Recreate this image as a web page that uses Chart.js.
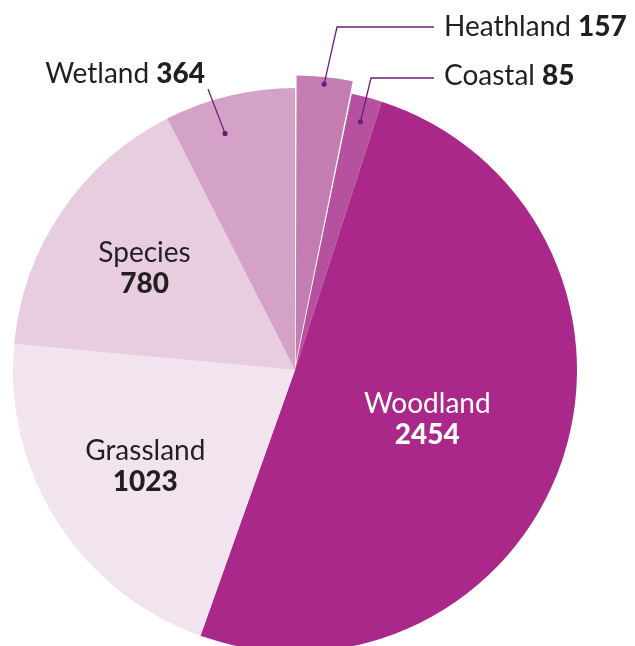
<!DOCTYPE html>
<html>
<head>
<meta charset="utf-8">
<script src="https://cdn.jsdelivr.net/npm/chart.js@4"></script>
<style>
    html, body { margin: 0; padding: 0; background: #ffffff; }
    canvas { display: block; }
</style>
</head>
<body>
<canvas id="habitatChart" width="635" height="646"></canvas>
<script>
// DATA
const categories = ['Heathland', 'Coastal', 'Woodland', 'Grassland', 'Species', 'Wetland'];
const values = [157, 85, 2454, 1023, 780, 364];
const sliceColors = ['#c47db0', '#b5519f', '#a9288a', '#f2e4ee', '#e8cde1', '#d4a2c7'];
const sliceOffsets = [28, 0, 0, 0, 0, 0];

const FONT = 'Lato, "Open Sans", sans-serif';
const FONT_SIZE = 28;
const TEXT_DARK = '#231f20';
const LEADER = '#6b1d7c';

// labels inside the slices: fraction of radius along the middle angle
const insideLabels = [
    { index: 2, frac: 0.5, shift: 1.5, color: '#ffffff' },
    { index: 3, frac: 0.63, shift: 0, color: TEXT_DARK },
    { index: 4, frac: 0.645, shift: 0, color: TEXT_DARK }
];

// labels outside, with a leader line (dot on slice, elbow, text)
const outsideLabels = [
    { index: 0, frac: 0.92, shift: 0, elbow: [337, 27], end: [434, 27], text: [444, 27], align: 'left' },
    { index: 1, frac: 0.91, shift: 0, elbow: [371, 78], end: [434, 78], text: [444, 76], align: 'left' },
    { index: 5, frac: 0.875, shift: -3, elbow: [208, 89], end: [208, 89], text: [205, 74], align: 'right' }
];

function arcPoint(arc, i, frac, shiftDeg) {
    const p = arc.getProps(['x', 'y', 'startAngle', 'endAngle', 'outerRadius'], true);
    const mid = (p.startAngle + p.endAngle) / 2;
    const ang = mid + (shiftDeg || 0) * Math.PI / 180;
    const off = sliceOffsets[i];
    const r = p.outerRadius * frac;
    return {
        x: p.x + Math.cos(mid) * off + Math.cos(ang) * r,
        y: p.y + Math.sin(mid) * off + Math.sin(ang) * r
    };
}

function drawNameValue(ctx, name, value, x, y, align, color) {
    ctx.textBaseline = 'middle';
    ctx.fillStyle = color;
    ctx.font = '400 ' + FONT_SIZE + 'px ' + FONT;
    const nameW = ctx.measureText(name + ' ').width;
    ctx.font = '900 ' + FONT_SIZE + 'px ' + FONT;
    const valW = ctx.measureText(value).width;
    let left = align === 'left' ? x : x - nameW - valW;
    ctx.textAlign = 'left';
    ctx.font = '400 ' + FONT_SIZE + 'px ' + FONT;
    ctx.fillText(name, left, y);
    ctx.font = '900 ' + FONT_SIZE + 'px ' + FONT;
    ctx.fillText(value, left + nameW, y);
}

const labelPlugin = {
    id: 'habitatLabels',
    afterDatasetsDraw(chart) {
        const ctx = chart.ctx;
        const arcs = chart.getDatasetMeta(0).data;
        ctx.save();

        insideLabels.forEach((lab) => {
            const pt = arcPoint(arcs[lab.index], lab.index, lab.frac, lab.shift);
            ctx.fillStyle = lab.color;
            ctx.textAlign = 'center';
            ctx.textBaseline = 'middle';
            ctx.font = '400 ' + FONT_SIZE + 'px ' + FONT;
            ctx.fillText(categories[lab.index], pt.x, pt.y - 15);
            ctx.font = '900 ' + FONT_SIZE + 'px ' + FONT;
            ctx.fillText(String(values[lab.index]), pt.x, pt.y + 16);
        });

        outsideLabels.forEach((lab) => {
            const pt = arcPoint(arcs[lab.index], lab.index, lab.frac, lab.shift);
            ctx.strokeStyle = LEADER;
            ctx.lineWidth = 1.3;
            ctx.beginPath();
            ctx.moveTo(pt.x, pt.y);
            ctx.lineTo(lab.elbow[0], lab.elbow[1]);
            ctx.lineTo(lab.end[0], lab.end[1]);
            ctx.stroke();
            ctx.fillStyle = LEADER;
            ctx.beginPath();
            ctx.arc(pt.x, pt.y, 2.6, 0, Math.PI * 2);
            ctx.fill();
            drawNameValue(ctx, categories[lab.index], String(values[lab.index]),
                lab.text[0], lab.text[1], lab.align, TEXT_DARK);
        });

        ctx.restore();
    }
};

new Chart(document.getElementById('habitatChart').getContext('2d'), {
    type: 'pie',
    data: {
        labels: categories,
        datasets: [
            {
                data: values,
                backgroundColor: sliceColors,
                borderWidth: 0,
                offset: sliceOffsets
            }
        ]
    },
    options: {
        responsive: false,
        animation: false,
        radius: 282,
        layout: {
            padding: { left: 0, right: 45, top: 94, bottom: 0 }
        },
        plugins: {
            legend: { display: false },
            tooltip: { enabled: false }
        }
    },
    plugins: [labelPlugin]
});
</script>
</body>
</html>
